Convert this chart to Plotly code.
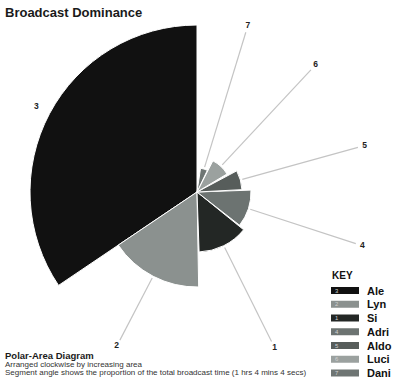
import plotly.graph_objects as go

W, H = 396, 378

# ---- data ----
names = ["Ale", "Lyn", "Si", "Adri", "Aldo", "Luci", "Dani"]
ids = [3, 2, 1, 4, 5, 6, 7]
theta_mid = [298, 207.5, 153.5, 108, 74.5, 43, 17]      # degrees clockwise from north
theta_width = [124, 57, 49, 40, 25, 32, 17]             # segment angle (share of time)
radius = [167, 95, 60, 54, 45, 35, 24]                  # segment radius
colors = ["#111111", "#8b918f", "#232725", "#6c7371", "#575d5b", "#9ba19f", "#6e7573"]

FONT = "Liberation Sans, Arial, sans-serif"

# polar geometry (pixel units -> radial range)
cx, cy, R = 197, 192, 185


def px(x):
    return x / W


def py(y):
    return 1 - y / H


fig = go.Figure()

fig.add_trace(go.Barpolar(
    r=radius, theta=theta_mid, width=theta_width,
    marker=dict(color=colors, line=dict(color="#ffffff", width=1)),
    hoverinfo="skip", showlegend=False,
))

# leader lines and number labels
label_r = [max(174, r + 15) for r in radius]
for r, t, lr in zip(radius, theta_mid, label_r):
    if lr - r > 20:
        fig.add_trace(go.Scatterpolar(
            r=[r + 2, lr - 7], theta=[t, t], mode="lines",
            line=dict(color="#c4c4c4", width=1.2),
            hoverinfo="skip", showlegend=False,
        ))

fig.add_trace(go.Scatterpolar(
    r=label_r, theta=theta_mid, mode="text", text=["<b>%d</b>" % i for i in ids],
    textfont=dict(family=FONT, size=8.5, color="#222222"),
    hoverinfo="skip", showlegend=False,
))

annotations = [
    dict(x=px(3), y=py(3), xanchor="left", yanchor="top",
         text="<b>Broadcast Dominance</b>", font=dict(family=FONT, size=13, color="#1a1a1a")),
    dict(x=px(3), y=py(355), xanchor="left", yanchor="middle",
         text="<b>Polar-Area Diagram</b>", font=dict(family=FONT, size=9.5, color="#1a1a1a")),
    dict(x=px(3), y=py(364), xanchor="left", yanchor="middle",
         text="Arranged clockwise by increasing area", font=dict(family=FONT, size=8, color="#333333")),
    dict(x=px(3), y=py(372.5), xanchor="left", yanchor="middle",
         text="Segment angle shows the proportion of the total broadcast time (1 hrs 4 mins 4 secs)",
         font=dict(family=FONT, size=8, color="#333333")),
    dict(x=px(330), y=py(275), xanchor="left", yanchor="middle",
         text="<b>KEY</b>", font=dict(family=FONT, size=10, color="#111111")),
]

shapes = []
for i, (n, k, c) in enumerate(zip(names, ids, colors)):
    yr = 290.5 + i * 13.75
    shapes.append(dict(type="rect", xref="paper", yref="paper",
                       x0=px(331), x1=px(359), y0=py(yr + 3.5), y1=py(yr - 3.5),
                       fillcolor=c, line=dict(width=0)))
    annotations.append(dict(x=px(332.5), y=py(yr), xanchor="left", yanchor="middle",
                            text=str(k), font=dict(family=FONT, size=6, color="#d0d0d0")))
    annotations.append(dict(x=px(365), y=py(yr), xanchor="left", yanchor="middle",
                            text="<b>%s</b>" % n, font=dict(family=FONT, size=11, color="#111111")))

for a in annotations:
    a.update(xref="paper", yref="paper", showarrow=False)

fig.update_layout(
    width=W, height=H,
    margin=dict(l=0, r=0, t=0, b=0),
    paper_bgcolor="white", plot_bgcolor="white",
    showlegend=False,
    polar=dict(
        domain=dict(x=[px(cx - R), px(cx + R)], y=[py(cy + R), py(cy - R)]),
        bgcolor="white",
        radialaxis=dict(range=[0, R], visible=False, showgrid=False),
        angularaxis=dict(rotation=90, direction="clockwise", visible=False, showgrid=False),
    ),
    annotations=annotations,
    shapes=shapes,
)

fig.write_html("out.html")
